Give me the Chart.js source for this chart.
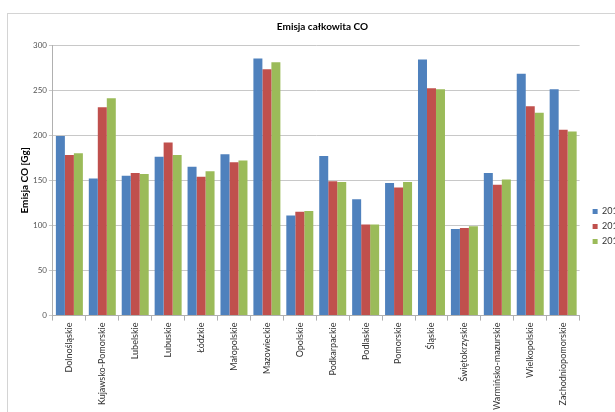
<!DOCTYPE html>
<html lang="pl">
<head>
  <meta charset="UTF-8" />
  <title>Emisja całkowita CO</title>
  <script src="https://cdn.jsdelivr.net/npm/chart.js"></script>
  <style>
    html, body {
      margin: 0;
      padding: 0;
      background: #fff;
      overflow: hidden;
      width: 615px;
      height: 412px;
    }

    .frame {
      position: absolute;
      left: 7px;
      top: 13px;
      width: 632px;
      height: 400px;
      border: 1px solid #d4d4d4;
      background: #fff;
    }

    canvas {
      display: block;
    }
  </style>
</head>
<body>
  <div class="frame">
    <canvas id="coChart" width="632" height="400"></canvas>
  </div>

  <script>
    const regions = [
      "Dolnośląskie", "Kujawsko-Pomorskie", "Lubelskie", "Lubuskie", "Łódzkie",
      "Małopolskie", "Mazowieckie", "Opolskie", "Podkarpackie", "Podlaskie",
      "Pomorskie", "Śląskie", "Świętokrzyskie", "Warmińsko-mazurskie",
      "Wielkopolskie", "Zachodniopomorskie"
    ];
    const co2010 = [199, 152, 155, 176, 165, 179, 285, 111, 177, 129, 147, 284, 96, 158, 268, 251];
    const co2011 = [178, 231, 158, 192, 154, 170, 273, 115, 149, 101, 142, 252, 97, 145, 232, 206];
    const co2012 = [180, 241, 157, 178, 160, 172, 281, 116, 148, 101, 148, 251, 99, 151, 225, 204];
    const yTicks = [0, 50, 100, 150, 200, 250, 300];

    const FONT = "Lato, 'Open Sans', sans-serif";

    function barSet(label, data, color) {
      return {
        label,
        data,
        backgroundColor: color,
        borderWidth: 0,
        barPercentage: 1,
        categoryPercentage: 0.82
      };
    }

    // Excel leaves a small gap between plot and legend, push legend right a bit
    const legendNudge = {
      id: "legendNudge",
      beforeDraw(chart) {
        if (!chart.$nudged) {
          chart.legend.left += 7;
          chart.$nudged = true;
        }
      }
    };

    new Chart(document.getElementById("coChart").getContext("2d"), {
      type: "bar",
      data: {
        labels: regions,
        datasets: [
          barSet("2010", co2010, "#4f81bd"),
          barSet("2011", co2011, "#c0504d"),
          barSet("2012", co2012, "#9bbb59")
        ]
      },
      plugins: [legendNudge],
      options: {
        responsive: false,
        animation: false,
        layout: { padding: { left: 11, right: 14, top: 0, bottom: 2 } },
        plugins: {
          title: {
            display: true,
            text: "Emisja całkowita CO",
            color: "#000",
            font: { family: FONT, size: 10, weight: "bold" },
            padding: { top: 7, bottom: 12 }
          },
          legend: {
            position: "right",
            align: "center",
            title: {
              display: true,
              text: " ",
              font: { family: FONT, size: 10 },
              padding: { top: 7.5, bottom: 7.5 }
            },
            labels: {
              boxWidth: 5,
              boxHeight: 5,
              padding: 6,
              color: "#333",
              font: { family: FONT, size: 9 }
            }
          },
          tooltip: { enabled: false }
        },
        scales: {
          x: {
            grid: {
              drawOnChartArea: false,
              drawTicks: true,
              tickLength: 5,
              color: "#b0b0b0"
            },
            border: { color: "#b0b0b0" },
            ticks: {
              minRotation: 90,
              maxRotation: 90,
              autoSkip: false,
              color: "#333",
              padding: 2,
              font: { family: FONT, size: 9 }
            }
          },
          y: {
            min: 0,
            max: 300,
            afterBuildTicks: axis => {
              axis.ticks = yTicks.map(v => ({ value: v }));
            },
            grid: {
              color: "#c8c8c8",
              tickLength: 4
            },
            border: { color: "#b0b0b0" },
            ticks: {
              color: "#555",
              padding: 2,
              font: { family: FONT, size: 8 }
            },
            title: {
              display: true,
              text: "Emisja CO [Gg]",
              color: "#000",
              padding: { top: 0, bottom: 0 },
              font: { family: FONT, size: 10, weight: "bold" }
            }
          }
        }
      }
    });
  </script>
</body>
</html>
